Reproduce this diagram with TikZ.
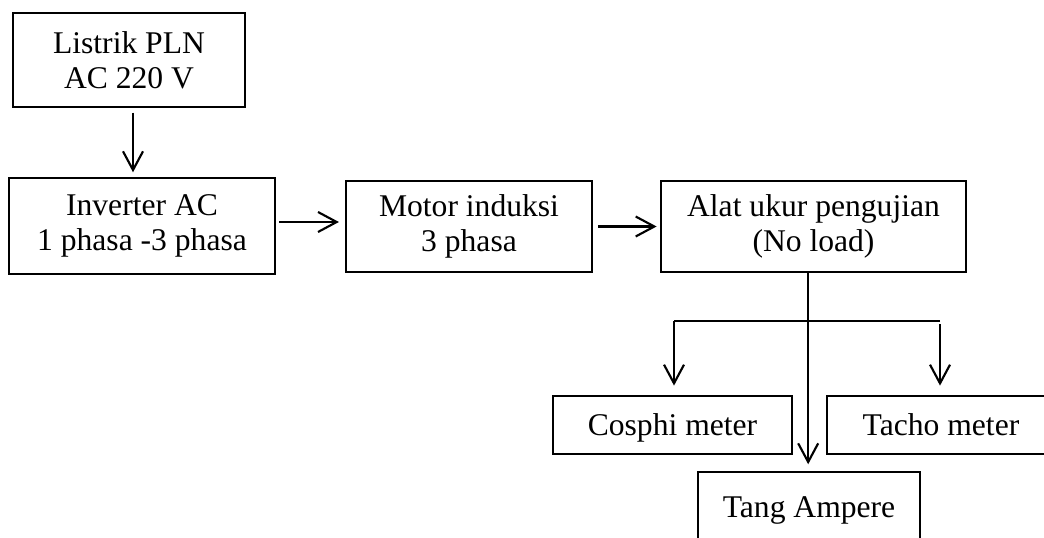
\documentclass[tikz,border=0pt]{standalone}
\usepackage{fontspec}
\setmainfont{Liberation Serif}
\usetikzlibrary{arrows.meta}
\begin{document}
\begin{tikzpicture}[x=0.75pt,y=-0.75pt,
  blk/.style={draw,line width=1.6pt,inner sep=0pt,align=center,
    font=\fontsize{23.7}{26.5}\selectfont},
  one/.style={blk,text height=15.7pt,text depth=0pt},
  arr/.style={line width=1.6pt,-{Straight Barb[length=14pt,width=15pt,line width=1.6pt]}}]
\useasboundingbox (0,0) rectangle (1044,538);
\clip (0,0) rectangle (1044,538);
\node[blk,minimum width=174pt,minimum height=70.5pt] (listrik) at (129,60) {Listrik PLN\\AC 220 V};
\node[blk,minimum width=199.5pt,minimum height=72pt] (inverter) at (142,226) {Inverter AC\\1 phasa -3 phasa};
\node[blk,minimum width=184.5pt,minimum height=68.25pt] (motor) at (469,226.5) {Motor induksi\\3 phasa};
\node[blk,minimum width=228.75pt,minimum height=68.25pt] (alat) at (813.5,226.5) {Alat ukur pengujian\\(No load)};
\node[one,minimum width=179.25pt,minimum height=43.5pt] (cosphi) at (672.5,425) {Cosphi meter};
\node[one,minimum width=171pt,minimum height=43.5pt] (tacho) at (941,425) {Tacho meter};
\node[one,minimum width=166.5pt,minimum height=52.5pt] (tang) at (809,507) {Tang Ampere};
\coordinate (bl) at (674,321);
\coordinate (brr) at (940,321);
\coordinate (brs) at (940,324);
\draw[arr,shorten <=3.5pt,shorten >=3.5pt] ([xshift=3pt]listrik.south) -- ([xshift=3pt]listrik.south |- inverter.north);
\draw[arr,shorten <=2.5pt,shorten >=4.5pt] ([yshift=3pt]inverter.east) -- ([yshift=3pt]inverter.east -| motor.west);
\draw[arr,shorten <=4pt,shorten >=2.5pt] (motor.east) -- (motor.east -| alat.west);
\draw[arr,shorten >=5pt] ([xshift=-4pt]alat.south) -- ([xshift=-4pt]alat.south |- tang.north);
\draw[line width=1.6pt] (brr) -- (bl);
\draw[arr,shorten >=7pt] (bl) -- (bl |- cosphi.north);
\draw[arr,shorten >=7pt] (brs) -- (brs |- tacho.north);
\end{tikzpicture}
\end{document}
